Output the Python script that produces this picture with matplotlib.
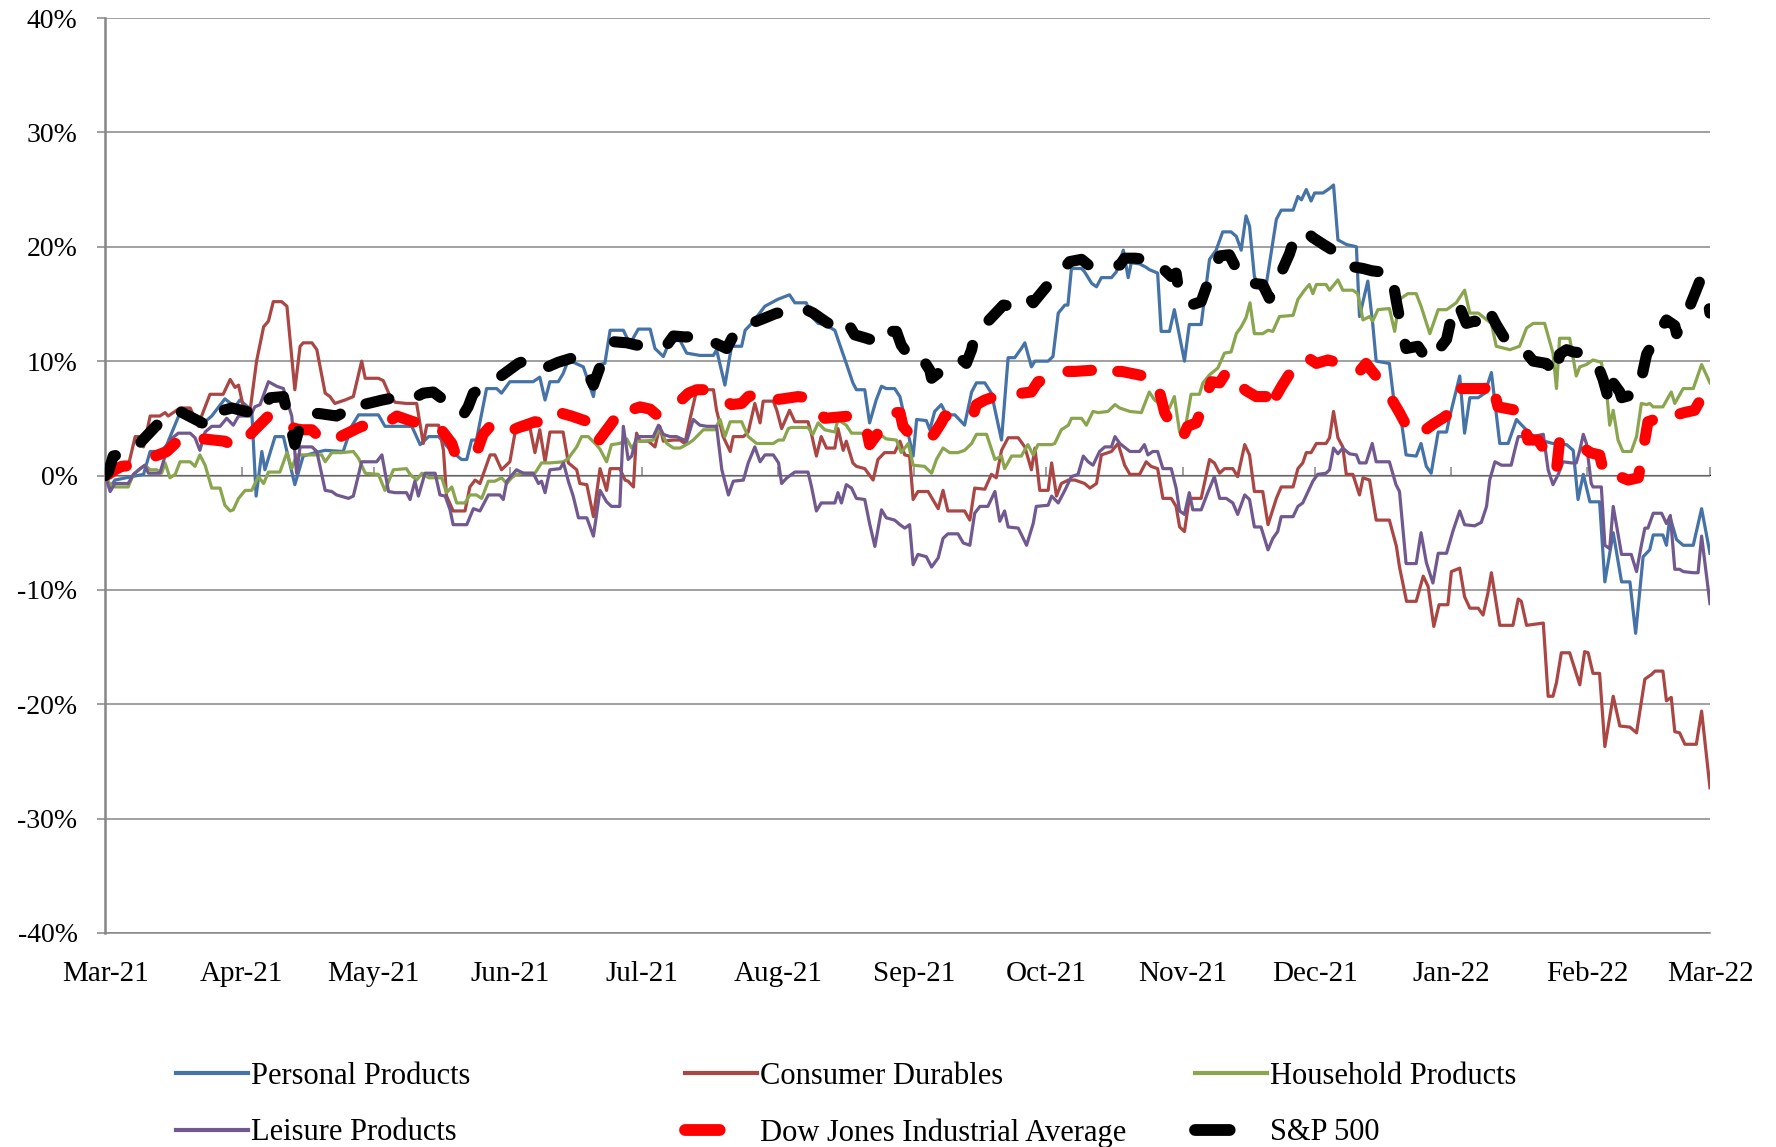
import numpy as np
import matplotlib
matplotlib.use("Agg")
import matplotlib.pyplot as plt
import matplotlib.dates as mdates
from matplotlib.lines import Line2D
from matplotlib.ticker import FuncFormatter, NullFormatter

plt.rcParams['font.family'] = ['Liberation Serif', 'DejaVu Serif']
plt.rcParams['lines.scale_dashes'] = False

start_date = "2021-03-01"
end_date = "2022-03-01"
series_names = ["Personal Products", "Consumer Durables", "Household Products",
                "Leisure Products", "Dow Jones Industrial Average", "S&P 500"]
y_ticks = [-40, -30, -20, -10, 0, 10, 20, 30, 40]

# ---- Personal Products (days since 2021-03-01, % change) ----
pp_days = [0, 1.1, 2.2, 6.0, 8.7, 10.2, 12.8, 14.0, 17.0, 19.6, 21.5, 24.2, 27.2, 29.5, 30.6, 33.3,
           34.3, 35.6, 36.3, 38.6, 40.5, 43.1, 45.0, 47.7, 50.0, 54.1, 56.0, 57.6, 62.1, 63.6, 69.7,
           71.6, 73.5, 75.8, 78.5, 81.0, 82.2, 83.3, 84.4, 86.7, 89.0, 90.1, 92.0, 97.3, 98.8, 100.0,
           101.1, 103.0, 104.1, 105.3, 108.7, 111.0, 112.1, 113.6, 114.8, 117.8, 119.3, 121.2, 123.9,
           125.0, 126.9, 128.4, 130.7, 132.2, 135.2, 138.3, 139.0, 140.9, 142.4, 144.7, 145.5, 147.0,
           150.0, 152.9, 154.9, 155.6, 156.8, 159.4, 160.6, 162.1, 163.6, 165.9, 166.6, 168.5, 170.0,
           170.8, 172.7, 173.8, 175.3, 176.5, 177.6, 179.5, 180.7, 182.2, 183.7, 184.5, 186.7, 187.5,
           188.6, 190.1, 191.3, 193.2, 195.4, 197.0, 198.1, 200.0, 201.5, 203.8, 205.3, 206.8, 208.3,
           209.1, 210.6, 211.4, 214.4, 215.5, 216.7, 218.2, 218.9, 219.7, 222.0, 222.7, 224.3, 225.4,
           226.5, 228.8, 229.9, 231.5, 232.6, 233.3, 235.2, 236.7, 237.4, 239.3, 240.1, 242.0, 243.1,
           245.4, 246.5, 249.2, 251.1, 252.6, 254.1, 256.0, 257.2, 258.3, 259.4, 260.2, 261.3, 262.8,
           264.0, 266.3, 267.4, 270.1, 271.2, 272.0, 273.1, 274.2, 275.0, 276.9, 278.4, 279.3, 280.3,
           282.2, 284.5, 285.2, 287.1, 288.2, 289.0, 292.0, 293.2, 294.3, 295.8, 298.1, 299.2, 300.4,
           301.5, 303.1, 305.0, 305.7, 308.0, 309.1, 310.3, 312.2, 313.7, 315.2, 317.1, 319.0, 320.9,
           321.6, 323.9, 326.2, 329.2, 332.3, 333.8, 334.9, 336.1, 337.6, 339.8, 341.0, 342.9, 344.8,
           346.7, 348.0, 349.7, 351.2, 352.0, 354.2, 355.0, 355.8, 357.3, 358.8, 361.1, 363.0, 364.9]
pp_vals = [0.0, -1.0, -0.4, -0.1, 0.1, 2.1, 2.1, 2.7, 5.5, 5.3, 4.3, 5.2, 6.7, 6.0, 6.6, 5.7,
           -1.8, 2.1, 0.5, 3.4, 3.4, -0.8, 1.7, 2.0, 2.2, 2.1, 4.3, 5.3, 5.3, 4.3, 4.3,
           2.7, 3.4, 3.4, 2.2, 1.4, 1.4, 3.1, 3.1, 7.6, 7.6, 7.2, 8.2, 8.2, 8.6, 6.6,
           8.2, 8.2, 8.9, 10.1, 9.5, 6.9, 9.7, 9.8, 12.7, 12.7, 11.5, 12.8, 12.8,
           11.1, 10.4, 11.8, 11.8, 10.7, 10.5, 10.5, 11.0, 7.9, 11.3, 11.3, 12.7, 13.3,
           14.8, 15.4, 15.7, 15.8, 15.1, 15.1, 13.9, 13.3, 13.2, 12.7, 11.9, 9.8, 8.1,
           7.5, 7.5, 4.6, 6.6, 7.8, 7.6, 7.6, 6.9, 4.3, 1.7, 4.9, 4.8, 4.0,
           5.6, 6.2, 5.3, 5.3, 4.4, 7.3, 8.1, 8.1, 7.2, 3.1, 10.3, 10.3, 11.1,
           11.6, 9.5, 10.0, 10.0, 10.4, 14.2, 14.9, 14.9, 18.1, 18.1, 17.8, 16.8, 16.5,
           17.3, 17.3, 17.8, 19.7, 17.3, 18.6, 18.5, 18.2, 18.0, 17.7, 12.6, 12.6, 14.5,
           10.0, 13.2, 13.2, 18.9, 19.7, 21.3, 21.3, 20.9, 19.7, 22.7, 21.8, 17.4, 16.2,
           16.7, 22.4, 23.2, 23.2, 24.4, 24.1, 25.0, 24.0, 24.7, 24.7, 25.1, 25.4, 20.6,
           20.2, 20.0, 13.9, 17.0, 13.3, 10.0, 9.8, 6.0, 5.9, 1.8, 1.7, 2.8, 0.8,
           0.2, 3.8, 3.8, 5.1, 8.7, 3.7, 6.8, 6.8, 7.2, 9.0, 2.8, 2.8, 4.9,
           4.6, 3.7, 3.1, 2.8, 2.7, 2.2, -2.1, 0.1, -2.3, -2.3, -9.3, -5.0, -9.3,
           -9.3, -13.8, -7.1, -6.5, -5.2, -5.2, -6.1, -3.6, -5.6, -6.1, -6.1, -2.9, -6.8]

# ---- Consumer Durables ----
cd_days = [0, 2.2, 5.2, 6.8, 7.9, 8.7, 10.2, 12.4, 13.6, 14.3, 17.0, 19.3, 21.2, 21.9, 23.8, 26.8,
           28.4, 29.5, 30.3, 31.4, 33.0, 34.4, 36.0, 37.1, 38.2, 40.1, 41.3, 43.1, 44.3, 45.0, 47.0,
           48.1, 50.0, 51.1, 52.2, 54.5, 56.4, 58.3, 59.1, 62.1, 63.2, 64.8, 65.9, 68.5, 70.8, 72.3,
           73.1, 75.8, 76.9, 77.6, 79.1, 81.8, 82.9, 84.1, 85.2, 87.5, 88.6, 90.1, 92.0, 93.2, 96.6,
           97.7, 98.8, 100.0, 101.1, 104.1, 105.3, 107.2, 107.9, 109.5, 111.0, 112.5, 114.0, 114.8,
           117.0, 118.2, 118.9, 120.1, 120.8, 121.6, 123.5, 125.0, 126.1, 126.9, 129.2, 130.7, 131.8,
           133.0, 134.5, 138.3, 139.0, 140.5, 142.1, 142.8, 145.1, 146.2, 147.7, 148.9, 149.6, 151.9,
           152.7, 153.8, 155.6, 156.8, 159.8, 160.6, 161.7, 162.8, 164.0, 165.9, 166.6, 167.8, 168.5,
           170.0, 170.8, 172.7, 174.6, 175.7, 177.2, 179.5, 180.7, 181.8, 182.9, 183.7, 184.8, 187.1,
           189.4, 190.5, 191.6, 195.4, 196.6, 197.7, 200.0, 201.5, 202.6, 203.8, 205.3, 207.6, 209.1,
           210.6, 211.4, 212.5, 214.4, 215.2, 216.3, 217.4, 219.0, 220.5, 222.7, 223.9, 225.4, 226.5,
           228.8, 230.3, 231.8, 233.0, 235.2, 236.7, 237.8, 239.3, 240.5, 242.4, 243.5, 244.3, 245.4,
           246.5, 249.2, 251.1, 252.2, 253.4, 254.5, 256.4, 257.5, 259.1, 260.2, 261.3, 263.2, 264.4,
           266.3, 267.4, 270.1, 271.2, 272.3, 273.1, 274.2, 275.4, 277.6, 278.4, 279.3, 280.3, 281.4,
           282.2, 283.7, 285.2, 286.0, 287.5, 289.0, 292.0, 293.6, 294.3, 295.9, 298.1, 299.7, 300.8,
           302.1, 303.3, 305.3, 306.1, 308.0, 309.1, 310.3, 312.2, 313.3, 314.4, 315.2, 317.1, 320.1,
           321.3, 322.0, 323.2, 327.0, 328.1, 329.2, 330.0, 331.1, 333.0, 335.3, 336.4, 337.2, 338.3,
           339.8, 341.0, 342.9, 344.4, 346.7, 348.2, 350.1, 351.6, 352.4, 354.2, 355.0, 356.1, 356.9,
           358.0, 359.2, 361.8, 363.0, 364.9]
cd_vals = [0.0, 0.3, 0.8, 3.4, 3.4, 2.5, 5.2, 5.2, 5.5, 5.2, 5.9, 5.9, 4.3, 5.2, 7.1, 7.1,
           8.4, 7.7, 7.9, 6.0, 5.9, 10.0, 13.0, 13.5, 15.2, 15.2, 14.8, 7.5, 11.3, 11.6, 11.6,
           11.0, 7.2, 6.9, 6.3, 6.6, 6.9, 10.0, 8.5, 8.5, 8.3, 6.9, 6.4, 6.3, 6.3, 2.8,
           4.4, 4.4, 2.2, -1.8, -3.1, -3.1, -1.0, -0.4, -0.7, 1.8, 1.8, 0.5, 1.2, 3.8, 4.1,
           2.0, 4.0, 1.2, 3.8, 3.8, 1.1, 0.5, -0.7, -0.8, -3.6, 0.6, -1.3, 0.6,
           0.6, -0.4, -0.5, -1.0, 3.7, 3.0, 3.0, 2.5, 4.3, 3.0, 3.1, 3.1, 2.8,
           5.0, 7.5, 7.5, 5.7, 3.4, 2.1, 3.4, 3.4, 3.8, 6.3, 4.6, 6.5, 6.5,
           5.7, 4.1, 5.7, 4.7, 4.7, 3.6, 1.7, 3.4, 2.4, 2.4, 4.1, 2.2, 3.0,
           1.1, 0.8, 0.6, -0.4, 1.4, 2.0, 2.0, 3.0, 1.8, 1.7, -2.1, -1.4, -1.4,
           -2.9, -1.3, -3.1, -3.1, -3.9, -1.1, -1.2, 0.1, -0.2, 2.2, 3.3, 3.3, 2.5,
           0.5, 2.4, -1.3, -1.3, 1.1, -1.8, -0.7, -0.4, -0.4, -0.7, -1.1, -0.7, 1.8,
           2.1, 2.8, 0.9, 0.1, 0.1, 1.2, 0.8, 0.6, -2.0, -2.0, -2.7, -4.5, -4.9,
           -2.0, -2.0, 1.4, 1.1, 0.2, 0.6, 0.6, -0.1, 2.7, 1.8, -1.4, -1.4, -4.3,
           -2.0, -1.0, -1.0, 0.6, 1.1, 2.0, 2.0, 2.8, 2.8, 3.3, 5.6, 3.3, 2.5,
           0.1, 0.1, -1.7, -0.2, -0.4, -3.9, -3.9, -6.2, -8.0, -11.0, -11.0, -8.8, -9.7,
           -13.2, -11.3, -11.3, -8.4, -8.1, -10.6, -11.6, -11.6, -12.2, -10.3, -8.5, -13.1, -13.1,
           -10.8, -11.0, -13.1, -12.9, -19.3, -19.3, -18.1, -15.5, -15.5, -18.3, -15.4, -15.5, -17.3,
           -17.3, -23.7, -19.3, -21.9, -22.0, -22.5, -17.8, -17.4, -17.1, -17.1, -19.7, -19.4, -22.4,
           -22.5, -23.5, -23.5, -20.6, -27.3]

# ---- Household Products ----
hh_days = [0, 1.1, 2.2, 5.2, 6.4, 9.0, 10.2, 11.7, 12.8, 13.6, 14.7, 15.9, 17.0, 19.3, 20.4, 21.5,
           22.7, 24.2, 26.1, 27.2, 28.4, 29.1, 30.3, 31.8, 33.3, 34.8, 36.0, 37.1, 39.7, 41.3, 42.4,
           43.5, 46.2, 49.2, 50.0, 51.5, 53.8, 56.4, 57.6, 59.1, 62.1, 63.6, 65.5, 68.5, 69.3, 70.8,
           72.0, 73.5, 76.5, 77.6, 78.8, 79.9, 81.8, 82.9, 84.4, 85.6, 87.1, 88.6, 90.1, 91.3, 92.4,
           93.5, 95.1, 97.7, 99.2, 101.1, 104.2, 105.3, 107.2, 108.3, 109.8, 111.4, 112.5, 114.0,
           115.1, 117.0, 118.6, 119.7, 120.8, 122.7, 124.6, 126.1, 127.7, 129.2, 130.7, 132.6, 133.7,
           136.0, 138.6, 139.8, 140.9, 142.1, 144.7, 146.2, 148.1, 151.9, 153.1, 154.2, 155.3, 156.0,
           159.8, 160.9, 162.1, 163.6, 165.9, 166.6, 168.5, 169.7, 171.9, 174.6, 176.5, 177.6, 179.9,
           181.0, 182.6, 183.7, 186.3, 187.9, 189.0, 190.5, 192.0, 193.9, 195.4, 197.0, 198.1, 200.4,
           201.1, 202.3, 203.8, 204.5, 206.1, 208.3, 209.8, 211.0, 212.1, 215.2, 215.9, 217.4, 219.0,
           219.7, 222.0, 223.1, 224.6, 225.8, 228.0, 229.6, 230.7, 233.0, 235.6, 237.4, 238.6, 239.7,
           242.0, 243.1, 244.3, 245.4, 246.9, 248.8, 249.6, 251.1, 253.0, 254.5, 256.0, 257.2, 258.3,
           259.4, 260.3, 261.3, 263.2, 264.4, 265.5, 267.0, 270.1, 271.2, 272.7, 273.8, 274.6, 275.4,
           277.6, 278.4, 280.3, 281.4, 283.7, 284.8, 286.0, 287.5, 288.2, 289.4, 292.0, 293.2, 294.3,
           296.2, 298.1, 299.2, 301.2, 303.1, 305.0, 307.2, 309.1, 310.3, 312.2, 315.2, 316.3, 319.4,
           321.6, 323.2, 324.7, 327.3, 329.2, 330.0, 330.7, 333.0, 334.5, 335.3, 336.8, 338.3, 340.2,
           341.4, 342.1, 342.9, 344.0, 345.1, 347.0, 348.2, 349.3, 350.5, 351.2, 352.0, 354.2, 356.1,
           356.9, 358.8, 361.1, 363.0, 364.9]
hh_vals = [0.0, -0.8, -1.0, -1.0, 0.1, 0.9, 0.5, 0.5, 0.2, 1.1, -0.2, 0.1, 1.2, 1.2, 0.8, 1.8,
           0.9, -1.1, -1.1, -2.6, -3.1, -3.0, -2.0, -1.3, -1.3, -0.1, -0.7, 0.3, 0.3, 2.0, 0.6,
           1.8, 1.8, 1.8, 1.2, 2.0, 2.0, 2.1, 1.5, 0.2, 0.1, -1.3, 0.5, 0.6, 0.1, -0.4,
           0.2, -0.2, -0.2, -1.5, -1.0, -2.4, -2.4, -1.7, -1.7, -2.0, -0.5, -0.5, -0.2, -0.7, -0.2,
           0.1, 0.2, 0.2, 1.1, 1.1, 1.2, 1.5, 2.5, 3.4, 3.4, 2.8, 2.3, 1.2,
           2.7, 2.8, 3.2, 2.4, 3.0, 3.0, 3.1, 4.1, 2.8, 2.4, 2.4, 2.8, 3.1,
           4.0, 4.0, 4.9, 3.4, 4.7, 4.7, 3.4, 2.8, 2.8, 3.1, 3.1, 4.1, 4.2,
           4.2, 3.6, 4.6, 4.0, 3.8, 4.9, 4.4, 3.7, 3.7, 3.1, 3.5, 3.2, 3.1,
           2.0, 2.8, 0.9, 0.8, 0.2, 1.4, 2.4, 2.0, 2.0, 2.2, 2.8, 3.6, 3.6,
           2.8, 1.4, 1.7, 0.6, 1.7, 1.7, 2.7, 1.8, 2.7, 2.7, 2.8, 4.0, 4.4,
           5.0, 5.0, 4.4, 5.6, 5.5, 5.6, 6.2, 5.9, 5.6, 5.5, 7.3, 6.6, 6.3,
           5.9, 6.9, 3.8, 3.7, 7.1, 7.1, 8.1, 8.8, 9.4, 10.7, 10.8, 12.4, 13.0,
           13.8, 15.1, 12.4, 12.4, 12.7, 12.6, 13.9, 14.0, 15.4, 16.2, 16.7, 15.9, 16.7,
           16.7, 16.2, 17.1, 16.2, 16.2, 15.9, 13.6, 13.9, 13.5, 14.5, 14.6, 12.6, 15.4,
           15.9, 15.9, 14.8, 12.4, 14.5, 14.5, 15.1, 16.2, 14.2, 14.2, 13.3, 11.3, 11.0,
           11.3, 12.9, 13.3, 13.3, 10.7, 7.6, 12.0, 12.0, 8.7, 9.5, 9.7, 10.1, 9.9,
           7.3, 4.4, 5.7, 3.1, 2.1, 2.1, 3.4, 6.3, 6.2, 6.3, 6.0, 6.0, 7.3,
           6.3, 7.6, 7.6, 9.7, 8.1]

# ---- Leisure Products ----
lp_days = [0, 1.1, 2.2, 5.2, 6.4, 7.9, 9.0, 9.8, 12.4, 14.0, 14.7, 16.6, 19.3, 20.4, 21.5, 22.7,
           24.2, 26.1, 27.6, 29.1, 30.3, 33.0, 34.0, 35.2, 37.1, 39.0, 40.5, 42.4, 43.5, 44.3, 47.0,
           48.1, 50.0, 51.5, 52.6, 55.3, 56.4, 58.3, 61.7, 62.9, 64.4, 65.9, 68.5, 69.3, 70.4, 71.2,
           72.7, 75.0, 76.1, 77.3, 78.4, 79.1, 82.2, 83.7, 85.2, 87.1, 89.7, 90.5, 91.3, 93.5, 95.1,
           97.3, 98.5, 99.2, 100.0, 101.1, 103.4, 104.2, 105.3, 106.4, 107.6, 109.5, 111.0, 112.5,
           114.0, 115.1, 117.0, 117.8, 118.9, 119.7, 120.8, 123.5, 124.6, 125.8, 126.9, 128.4, 129.9,
           132.2, 133.7, 135.2, 136.8, 139.0, 140.2, 141.7, 142.8, 145.1, 146.2, 147.7, 148.9, 150.0,
           151.9, 153.1, 153.8, 155.0, 156.8, 159.8, 160.6, 161.7, 162.8, 165.9, 166.6, 167.4, 168.5,
           169.7, 170.8, 172.7, 173.8, 175.0, 176.5, 177.6, 179.5, 180.7, 181.8, 182.9, 183.7, 184.8,
           186.7, 187.9, 189.4, 190.5, 191.6, 193.9, 195.1, 196.6, 197.7, 198.9, 200.7, 202.3, 203.4,
           204.5, 205.3, 207.6, 209.5, 211.0, 211.7, 214.4, 215.2, 216.7, 218.2, 219.7, 221.2, 222.4,
           223.5, 224.6, 226.1, 227.3, 228.8, 229.6, 230.7, 233.0, 235.2, 236.3, 237.1, 238.2, 239.3,
           240.5, 242.4, 243.5, 244.3, 245.4, 246.5, 247.3, 249.2, 250.7, 252.2, 253.4, 254.9, 256.4,
           257.5, 259.1, 260.2, 261.3, 262.8, 264.4, 265.5, 266.6, 267.4, 270.1, 271.2, 272.3, 274.6,
           275.7, 277.6, 278.4, 279.3, 280.3, 281.4, 282.9, 284.5, 285.2, 286.7, 288.1, 289.0, 292.0,
           293.5, 294.3, 295.8, 298.1, 299.2, 300.4, 301.9, 303.1, 305.0, 306.5, 308.0, 309.1, 311.4,
           312.9, 314.1, 314.8, 316.0, 317.5, 319.7, 320.5, 321.3, 323.2, 324.7, 327.0, 328.1, 329.2,
           330.4, 331.5, 333.4, 334.5, 335.3, 336.1, 336.8, 337.9, 338.3, 340.2, 341.0, 342.1, 342.9,
           344.8, 347.0, 348.2, 349.3, 350.1, 350.8, 352.0, 353.9, 355.0, 355.9, 356.9, 358.0, 358.8,
           361.1, 362.2, 363.0, 364.9]
lp_vals = [0.0, -1.4, -0.7, -0.7, 0.1, 0.6, 0.9, 0.2, 0.2, 2.2, 3.1, 3.7, 3.7, 3.3, 2.2, 3.8,
           4.3, 4.3, 5.0, 4.4, 5.2, 5.2, 6.0, 6.2, 8.2, 7.8, 7.6, 5.2, 0.2, 2.5, 2.5,
           2.1, -1.3, -1.4, -1.7, -2.0, -1.8, 1.2, 1.2, 1.8, -1.4, -1.5, -1.5, -2.1, -0.5, -1.8,
           0.2, 0.2, -1.7, -1.8, -3.0, -4.3, -4.3, -2.9, -3.1, -1.7, -1.7, -2.1, -0.5, 0.5, 0.2,
           0.2, -0.7, -0.5, -1.5, 0.5, 0.6, 1.1, -0.5, -1.8, -3.7, -3.7, -5.3, -1.3,
           -2.3, -2.7, -2.7, 4.3, 1.4, 1.7, 3.4, 3.4, 3.4, 4.4, 3.6, 3.4, 3.4,
           3.0, 4.9, 4.4, 4.3, 4.3, 0.5, -1.7, -0.5, -0.4, 1.1, 2.5, 1.2, 1.8,
           1.8, 1.1, -0.7, -0.2, 0.3, 0.3, -1.0, -3.1, -2.4, -2.4, -1.5, -2.4, -0.8,
           -1.1, -2.0, -2.1, -4.2, -6.2, -3.0, -3.7, -3.9, -4.3, -4.6, -4.3, -7.8, -6.9,
           -7.1, -8.0, -7.2, -5.5, -5.1, -5.1, -5.9, -6.1, -3.3, -2.7, -2.7, -1.4, -4.0,
           -3.1, -4.5, -4.6, -6.1, -4.2, -2.7, -2.6, -1.8, -2.4, -1.3, -0.1, 0.1, 1.7,
           1.2, 0.9, 2.1, 2.5, 2.5, 3.4, 2.8, 2.1, 2.1, 2.7, 1.8, 2.1, 2.1,
           0.6, 0.6, -1.1, -3.1, -3.4, -1.5, -3.0, -3.0, -1.5, -0.1, -2.0, -2.0, -2.4,
           -3.4, -1.7, -2.1, -4.5, -4.5, -6.5, -5.5, -4.9, -3.6, -3.6, -2.7, -2.4, -0.5,
           0.1, 0.2, 0.5, 2.4, 1.9, 2.4, 1.9, 1.8, 1.1, 1.1, 2.8, 1.2, 1.2,
           -0.8, -1.4, -7.7, -7.7, -5.0, -7.6, -9.4, -6.8, -6.8, -4.8, -3.1, -4.3, -4.4,
           -4.1, -2.7, -0.4, 1.2, 0.9, 0.9, 2.2, 3.4, 3.4, 3.4, 3.6, 0.5, -0.8,
           0.1, 1.2, 1.1, 1.1, 2.2, 3.6, 2.8, -0.7, -1.0, -1.0, -6.1, -6.4, -2.7,
           -6.9, -6.9, -8.4, -6.1, -4.6, -4.6, -3.3, -3.3, -4.2, -3.5, -8.2, -8.2, -8.4,
           -8.5, -8.5, -5.3, -11.2]

# ---- Dow Jones Industrial Average ----
dj_days = [0, 0.7, 2.2, 3.7, 6.4, 10.0, 14.0, 15.9, 17.8, 20.0, 22.0, 24.6, 27.2, 29.9, 31.0, 34.0,
           37.1, 39.7, 41.6, 43.1, 44.7, 47.0, 48.5, 50.7, 54.0, 58.3, 61.4, 64.4, 66.3, 70.0, 75.8,
           77.6, 78.8, 79.9, 82.0, 84.8, 85.9, 87.5, 89.4, 90.5, 94.0, 97.7, 99.6, 101.1, 102.3, 106.0,
           109.8, 111.0, 111.7, 115.0, 118.2, 120.1, 121.6, 123.9, 125.4, 128.0, 130.7, 132.6, 134.5,
           137.5, 140.0, 142.4, 144.7, 146.2, 148.1, 149.6, 154.0, 157.5, 159.8, 161.3, 163.6, 166.5,
           169.3, 171.9, 173.1, 173.8, 176.5, 178.8, 180.7, 181.4, 182.5, 185.0, 187.1, 188.6, 190.1,
           190.9, 194.0, 197.3, 198.1, 200.0, 202.3, 206.5, 210.6, 212.1, 214.4, 216.7, 220.5, 224.3,
           225.8, 227.3, 231.1, 235.0, 239.0, 240.0, 240.9, 243.0, 245.0, 246.1, 248.1, 250.0, 251.5,
           253.4, 254.9, 256.4, 257.2, 259.5, 261.7, 264.0, 264.4, 267.5, 270.8, 273.1, 275.4, 278.0,
           281.0, 283.7, 285.2, 286.7, 287.9, 289.4, 292.0, 294.3, 295.4, 296.6, 299.2, 302.0, 304.9,
           306.4, 308.3, 311.0, 313.7, 315.2, 316.7, 319.5, 322.0, 322.8, 323.5, 325.8, 328.0, 330.0,
           330.7, 333.4, 335.3, 337.6, 339.8, 340.6, 342.9, 344.4, 346.3, 348.6, 350.8, 352.3, 353.5,
           355.0, 356.5, 359.0, 361.4, 363.0, 364.5, 364.9]
dj_vals = [0.0, 0.1, 0.5, 0.8, 0.9, 1.5, 2.1, 2.8, 3.4, 3.3, 3.2, 3.1, 3.0, 2.4, 2.8, 4.0,
           5.2, 5.2, 4.4, 4.1, 4.0, 4.0, 3.4, 2.8, 3.5, 4.3, 4.4, 4.7, 5.2, 4.7, 4.3,
           3.4, 2.8, 1.5, 2.0, 2.4, 3.6, 4.3, 4.2, 3.6, 4.2, 4.7, 4.6, 5.5, 5.6, 5.2,
           4.7, 3.6, 2.8, 4.5, 6.2, 5.8, 6.0, 5.8, 5.3, 5.9, 6.5, 7.2, 7.5,
           7.5, 6.8, 6.2, 6.3, 6.9, 7.1, 6.5, 6.7, 6.9, 6.8, 6.0, 5.0, 5.1,
           5.2, 4.9, 4.0, 2.7, 4.1, 5.5, 5.5, 4.3, 3.8, 3.3, 3.0, 3.7, 4.6,
           5.2, 5.2, 5.2, 6.2, 6.6, 6.9, 7.1, 7.3, 8.2, 8.4, 9.1, 9.1, 9.2,
           8.6, 9.1, 9.1, 8.8, 8.4, 6.9, 5.5, 4.0, 3.3, 4.3, 4.6, 6.5, 8.2,
           8.1, 9.0, 9.0, 8.1, 7.4, 6.9, 6.9, 5.7, 7.8, 9.8, 10.4, 9.8, 10.1,
           9.8, 9.5, 9.1, 9.8, 9.2, 8.5, 7.0, 5.5, 4.7, 3.7, 3.7, 4.5, 5.2,
           6.3, 7.6, 7.6, 7.6, 8.4, 6.0, 5.8, 5.6, 4.3, 3.1, 3.1, 1.8, 0.5,
           3.0, 3.0, 2.7, 2.0, 1.8, 0.5, 0.8, -0.1, -0.4, -0.2, 4.7, 4.9, 4.6,
           4.7, 5.2, 5.5, 5.7, 6.8, 6.3, 4.9]

# ---- S&P 500 ----
sp_days = [0, 0.7, 1.8, 2.9, 5.6, 8.5, 11.7, 14.0, 15.5, 17.0, 20.0, 23.0, 24.2, 26.8, 28.8, 32.0,
           35.2, 36.3, 37.5, 40.5, 41.8, 43.1, 44.3, 45.8, 49.0, 52.6, 54.1, 55.3, 58.7, 63.0, 67.0,
           70.4, 72.3, 74.6, 78.0, 81.4, 82.5, 83.7, 85.6, 90.0, 93.9, 95.8, 98.5, 100.0, 103.0, 106.4,
           107.9, 109.5, 111.0, 112.5, 114.4, 115.5, 118.6, 120.8, 124.0, 127.7, 129.2, 132.2, 134.5,
           138.0, 141.3, 142.8, 144.7, 146.2, 149.5, 152.7, 155.0, 156.8, 159.4, 161.0, 164.0, 167.4,
           168.9, 170.4, 173.1, 174.6, 176.1, 177.2, 179.9, 181.0, 182.5, 184.1, 186.0, 187.5, 187.9,
           191.0, 194.3, 195.8, 197.0, 197.7, 201.0, 204.2, 206.1, 208.3, 209.8, 211.0, 214.0, 217.4,
           219.3, 222.0, 223.9, 227.3, 230.7, 231.8, 234.1, 236.7, 238.6, 240.5, 242.4, 243.5, 244.3,
           245.5, 246.9, 249.2, 250.4, 251.1, 252.2, 253.4, 255.6, 257.2, 258.7, 260.0, 261.0, 263.2,
           264.7, 267.0, 269.3, 270.8, 273.1, 274.6, 277.0, 279.1, 280.7, 282.9, 286.0, 288.0, 290.1,
           292.5, 293.6, 294.7, 295.8, 298.5, 300.8, 303.0, 305.0, 306.1, 307.6, 309.5, 311.4, 312.9,
           314.4, 316.3, 318.2, 320.5, 323.2, 324.7, 327.7, 329.2, 330.0, 330.7, 332.3, 333.8, 336.1,
           337.6, 339.5, 340.6, 342.1, 342.9, 344.4, 344.8, 348.6, 350.5, 353.0, 355.0, 356.9, 357.3,
           360.0, 362.6, 364.1, 364.9]
sp_vals = [0.0, 0.3, 1.7, 1.8, 1.8, 3.1, 4.4, 4.3, 5.0, 5.6, 5.0, 4.4, 5.5, 5.7, 5.9, 5.6,
           5.3, 6.2, 6.8, 6.9, 4.8, 2.7, 4.4, 5.5, 5.4, 5.2, 5.5, 6.3, 6.2, 6.6, 6.9,
           6.8, 7.2, 7.3, 6.3, 5.3, 6.0, 7.2, 7.6, 8.7, 9.8, 10.1, 10.0, 9.4, 9.9, 10.3,
           9.7, 9.1, 7.9, 9.5, 11.0, 11.7, 11.6, 11.4, 11.4, 11.4, 12.2, 12.1, 12.4,
           11.7, 11.1, 12.2, 12.3, 13.2, 13.7, 14.2, 14.2, 14.5, 14.5, 14.2, 13.4, 12.6,
           13.3, 12.3, 12.0, 11.8, 11.6, 12.6, 12.6, 11.4, 10.6, 9.8, 10.1, 9.2, 8.5,
           9.4, 10.3, 9.8, 11.0, 12.3, 13.6, 14.9, 14.8, 15.1, 15.7, 15.1, 16.5, 17.8,
           18.7, 18.9, 18.3, 18.4, 18.4, 19.0, 19.0, 18.9, 18.9, 18.1, 17.4, 17.7, 15.7,
           15.3, 14.9, 15.2, 16.5, 16.8, 18.0, 19.2, 19.3, 18.1, 17.0, 16.9, 16.8, 16.7,
           15.5, 17.4, 19.4, 21.2, 21.3, 20.8, 20.2, 19.7, 18.9, 18.3, 18.1, 17.9, 17.8,
           17.7, 15.2, 13.0, 11.1, 11.3, 10.0, 10.9, 11.9, 13.8, 15.1, 13.3, 13.5, 13.3,
           14.6, 13.2, 12.0, 11.3, 10.7, 10.0, 9.8, 9.2, 8.7, 10.6, 11.0, 10.8, 10.7,
           10.2, 9.5, 8.4, 6.3, 8.1, 7.3, 6.8, 7.2, 10.6, 12.3, 13.6, 13.1, 12.4,
           14.5, 17.0, 16.2, 14.2]

colors = ["#4572A7", "#AA4643", "#89A54E", "#71588F", "#FF0000", "#000000"]
grid_color = "#868686"

fig = plt.figure(figsize=(17.76, 11.47), dpi=100)
ax = fig.add_axes([105.3 / 1776, 1 - 933 / 1147, (1710.4 - 105.3) / 1776, (933 - 18) / 1147])

base = mdates.date2num(np.datetime64(start_date))

def xs(days):
    return base + np.asarray(days, dtype=float)

thin = 2.3
thick = 8.0
dash = (0, (17, 22.5))

ax.plot(xs(pp_days), pp_vals, color=colors[0], lw=thin, zorder=3, solid_joinstyle='round')
ax.plot(xs(cd_days), cd_vals, color=colors[1], lw=thin, zorder=3, solid_joinstyle='round')
ax.plot(xs(hh_days), hh_vals, color=colors[2], lw=thin, zorder=3, solid_joinstyle='round')
ax.plot(xs(lp_days), lp_vals, color=colors[3], lw=thin, zorder=3, solid_joinstyle='round')
ax.plot(xs(dj_days), dj_vals, color=colors[4], lw=thick, linestyle=dash,
        dash_capstyle='round', dash_joinstyle='round', zorder=4)
ax.plot(xs(sp_days), sp_vals, color=colors[5], lw=thick, linestyle=dash,
        dash_capstyle='round', dash_joinstyle='round', zorder=5)

ax.set_xlim(base, mdates.date2num(np.datetime64(end_date)))
ax.set_ylim(-40, 40)
ax.set_yticks(y_ticks)
ax.yaxis.set_major_formatter(FuncFormatter(lambda v, p: f"{v:.0f}%"))
ax.xaxis.set_major_locator(mdates.MonthLocator())
ax.xaxis.set_major_formatter(mdates.DateFormatter("%b-%y"))

ax.grid(axis='y', color=grid_color, lw=1.1)
ax.set_axisbelow(True)
for s in ['top', 'right']:
    ax.spines[s].set_visible(False)
ax.spines['left'].set_color(grid_color)
ax.spines['left'].set_linewidth(1.8)
ax.spines['bottom'].set_color(grid_color)
ax.spines['bottom'].set_linewidth(1.1)

ax.tick_params(axis='y', direction='out', length=6, width=1.1, color=grid_color,
               labelsize=20, pad=14, labelcolor='black')
ax.tick_params(axis='x', length=0, labelsize=21, pad=20, labelcolor='black')

# horizontal category axis crossing at 0% with outward tick marks (no labels)
sec = ax.secondary_xaxis(0.5)
sec.xaxis.set_major_locator(mdates.MonthLocator())
sec.xaxis.set_major_formatter(NullFormatter())
sec.tick_params(axis='x', direction='out', length=6, width=1.1, color=grid_color,
                labelbottom=False, labeltop=False)
sec.spines['bottom'].set_color(grid_color)
sec.spines['bottom'].set_linewidth(1.1)

# legend: three equal-width columns, two rows
def proxy(i):
    if i >= 4:
        return Line2D([], [], color=colors[i], lw=thick + 0.5, linestyle=(0, (25, 80)),
                      dash_capstyle='round')
    return Line2D([], [], color=colors[i], lw=3.0)

col_x = [176 / 1776, 685 / 1776, 1195 / 1776]
col_items = [(0, 3), (1, 4), (2, 5)]
for cx, (a, b) in zip(col_x, col_items):
    fig.legend([proxy(a), proxy(b)], [series_names[a], series_names[b]],
               loc='upper left', bbox_to_anchor=(cx, 1 - 1062 / 1147),
               frameon=False, fontsize=22, handlelength=2.35, handletextpad=0.1,
               labelspacing=0.9, borderpad=0, borderaxespad=0)

fig.savefig("out.png", dpi=100)
